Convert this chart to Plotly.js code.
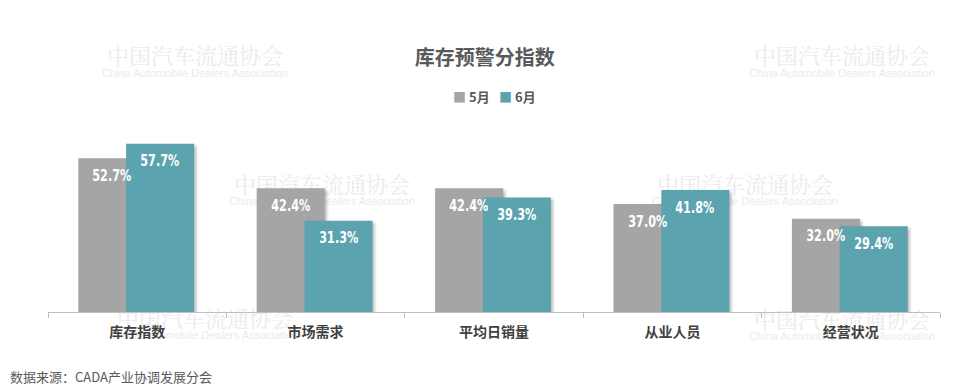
<!DOCTYPE html>
<html>
<head>
<meta charset="utf-8">
<script src="https://cdn.plot.ly/plotly-3.0.1.min.js"></script>
<style>
html,body{margin:0;padding:0;background:#fff;}
#chart{width:960px;height:392px;}
.barlayer .point path{filter:drop-shadow(2px 2px 1.5px rgba(0,0,0,0.28));}
</style>
</head>
<body>
<div id="chart"></div>
<script>
const categories = ['库存指数', '市场需求', '平均日销量', '从业人员', '经营状况'];
const seriesNames = ['5月', '6月'];
const may = [52.7, 42.4, 42.4, 37.0, 32.0];
const june = [57.7, 31.3, 39.3, 41.8, 29.4];
const colors = ['#a5a5a5', '#5ba3af'];
const titleText = '库存预警分指数';
const sourceText = '数据来源：CADA产业协调发展分会';
const wmCN = '中国汽车流通协会';
const wmEN = 'China Automobile Dealers Association';

const barWidth = 0.381;
const offsets = [-0.33, -0.062];
const series = [may, june];

const traces = series.map((vals, s) => ({
  type: 'bar',
  x: categories,
  y: vals,
  name: seriesNames[s],
  width: categories.map(() => barWidth),
  offset: categories.map(() => offsets[s]),
  marker: {color: colors[s], line: {width: 0}},
  hoverinfo: 'skip',
  showlegend: false
}));

// plot-area geometry (pixels) for paper conversions
const L = 48, R = 20, T = 137, B = 80, W = 960, H = 392;
const pw = W - L - R, ph = H - T - B;
const px = x => (x - L) / pw;
const py = y => (H - B - y) / ph;

const annotations = [];
// watermarks (moved behind the bars after rendering)
const wmPos = [[842, 55], [195, 55], [322, 183], [745, 183], [842, 318], [205, 317]];
wmPos.forEach(p => {
  annotations.push({x: px(p[0]), y: py(p[1]), xref: 'paper', yref: 'paper', showarrow: false,
    xanchor: 'center', yanchor: 'middle', text: wmCN,
    font: {family: '"Noto Serif CJK SC", "Noto Sans CJK SC", serif', size: 22, color: '#ebebeb'}});
  annotations.push({x: px(p[0]), y: py(p[1] + 18), xref: 'paper', yref: 'paper', showarrow: false,
    xanchor: 'center', yanchor: 'middle', text: wmEN,
    font: {family: '"Liberation Sans", Arial, sans-serif', size: 11, color: '#ebebeb'}});
});
const nWm = annotations.length;
// value labels
series.forEach((vals, s) => {
  vals.forEach((v, i) => {
    annotations.push({
      x: i + offsets[s] + barWidth / 2, y: v, xref: 'x', yref: 'y',
      yshift: -17, yanchor: 'middle', xanchor: 'center', showarrow: false,
      text: v.toFixed(1) + '%',
      font: {family: '"DejaVu Sans", sans-serif', size: 16, color: '#ffffff', weight: 700}
    });
  });
});
// legend (built from series names)
const legendX = [451, 497];
seriesNames.forEach((n, s) => {
  annotations.push({
    x: px(legendX[s]), y: py(97), xref: 'paper', yref: 'paper',
    xanchor: 'left', yanchor: 'middle', showarrow: false,
    text: '<span style="color:' + colors[s] + '">■</span> ' + n,
    font: {family: '"Noto Sans CJK SC", sans-serif', size: 13, color: '#595959', weight: 700}
  });
});
// source
annotations.push({
  x: px(8), y: py(376), xref: 'paper', yref: 'paper', xanchor: 'left', yanchor: 'middle',
  showarrow: false, text: sourceText,
  font: {family: '"Noto Sans CJK SC", sans-serif', size: 13, color: '#595959'}
});

const layout = {
  width: W, height: H,
  margin: {l: L, r: R, t: T, b: B, pad: 0},
  paper_bgcolor: '#ffffff', plot_bgcolor: 'rgba(0,0,0,0)',
  title: {text: titleText, x: 0.505, xanchor: 'center', y: 1 - 58 / H, yanchor: 'middle',
    font: {family: '"Noto Sans CJK SC", sans-serif', size: 20, color: '#595959', weight: 700}},
  barmode: 'overlay',
  showlegend: false,
  xaxis: {
    type: 'category', range: [-0.5, 4.5], showgrid: false, zeroline: false,
    showline: true, linecolor: '#bfbfbf', linewidth: 1,
    ticks: 'outside', tickson: 'boundaries', ticklen: 5, tickcolor: '#bfbfbf',
    ticklabelstandoff: 7,
    tickfont: {family: '"Noto Sans CJK SC", sans-serif', size: 14, color: '#404040', weight: 700},
    fixedrange: true
  },
  yaxis: {range: [0, 60], visible: false, showgrid: false, zeroline: false, fixedrange: true},
  annotations: annotations
};

Plotly.newPlot('chart', traces, layout, {displayModeBar: false, staticPlot: true}).then(gd => {
  // condense value labels to mimic the narrow bold face of the original
  gd.querySelectorAll('.annotation-text').forEach(t => {
    if (/%$/.test(t.textContent)) {
      t.setAttribute('textLength', '39');
      t.setAttribute('lengthAdjust', 'spacingAndGlyphs');
    }
  });
  // put the watermark texts behind the bars, as in the original
  const below = gd.querySelector('.main-svg .layer-below');
  if (below) {
    for (let k = 0; k < nWm; k++) {
      const a = gd.querySelector('.annotation[data-index="' + k + '"]');
      if (a) below.appendChild(a);
    }
  }
});
</script>
</body>
</html>
